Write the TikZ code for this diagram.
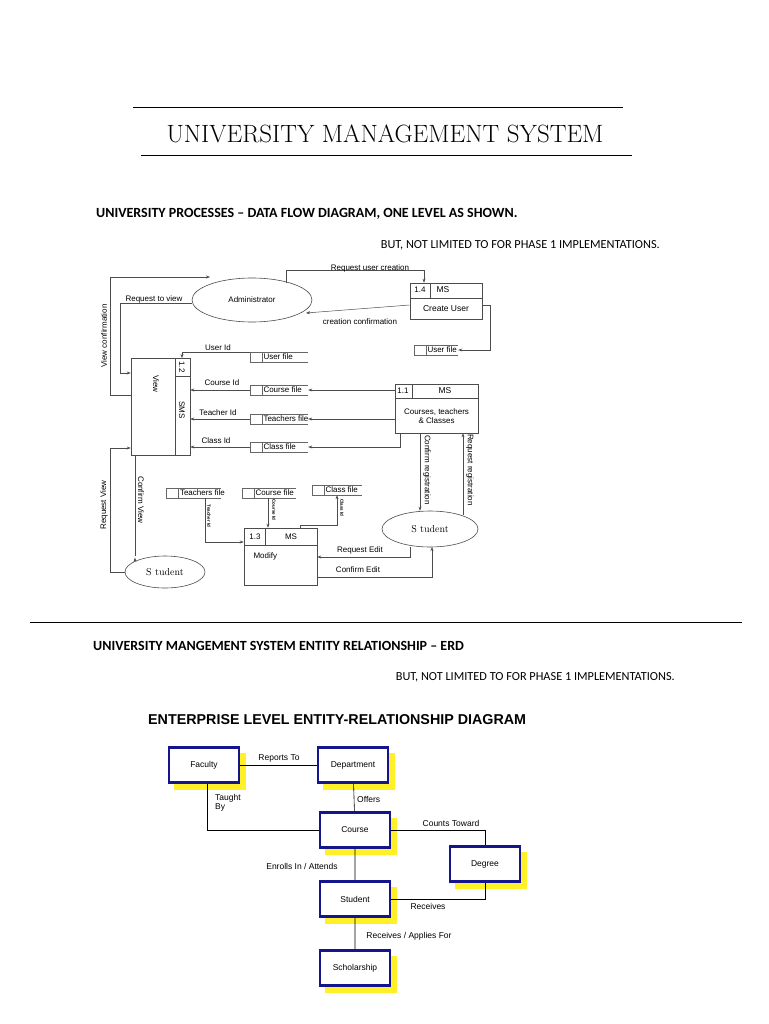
\documentclass[tikz,border=0pt]{standalone}
\usepackage{fontspec}
\setsansfont{Liberation Sans}
\newfontfamily\calib{Carlito}
\usetikzlibrary{shapes.geometric,arrows.meta}
\begin{document}
\begin{tikzpicture}[x=1pt,y=-1pt,
  dfd/.style={font=\sffamily\fontsize{8}{9}\selectfont},
  flow/.style={draw=black!70,line width=0.5pt,-{Stealth[length=4pt,width=3pt]}},
  plain/.style={draw=black!70,line width=0.5pt},
  ent/.style={ellipse,draw=black!70,line width=0.6pt,fill=white},
  proc/.style={draw=black!70,line width=0.6pt,inner sep=0},
  store/.style={minimum height=10pt,inner sep=0pt},
  stxt/.style={dfd,anchor=west,inner sep=0pt},
  erdbox/.style={draw={rgb,255:red,20;green,20;blue,140},line width=2.4pt,fill=white,minimum width=70pt,minimum height=35pt,
     font=\sffamily\fontsize{8.5}{9.5}\selectfont},
  shadowbox/.style={fill={rgb,255:red,255;green,240;blue,40},minimum width=72pt,minimum height=37pt,inner sep=0},
  lbl/.style={font=\sffamily\fontsize{8.5}{9.5}\selectfont,inner sep=1pt},
  hdr/.style={font=\calib\bfseries\fontsize{14}{16}\selectfont,inner sep=0},
  hdr2/.style={font=\calib\fontsize{12.3}{14}\selectfont,inner sep=0}
]
\useasboundingbox (0,0) rectangle (768,1024);
% header
\draw[line width=0.7pt] (133,107) -- (623,107);
\node[font=\fontsize{25}{28}\selectfont] (title) at (385,134) {UNIVERSITY MANAGEMENT SYSTEM};
\draw[line width=0.7pt] (141,155) -- (632,155);
\node[hdr,anchor=west] (h1) at (96,214) {UNIVERSITY PROCESSES – DATA FLOW DIAGRAM, ONE LEVEL AS SHOWN.};
\node[hdr2,anchor=east] (h2) at (660,245) {BUT, NOT LIMITED TO FOR PHASE 1 IMPLEMENTATIONS.};

% ---------- DFD ----------
\node[ent,minimum width=120pt,minimum height=44pt,dfd] (adm) at (252,300) {Administrator};
% Create user 1.4
\node[proc,minimum width=72pt,minimum height=36pt] (cu) at (446,301) {};
\draw[plain] (410,298) -- (482,298) (430,283) -- (430,298);
\node[dfd] (cun) at (420,290) {1.4};
\node[dfd,font=\sffamily\fontsize{8.5}{9}\selectfont,anchor=west] (cums) at (433,290) {MS};
\node[dfd,font=\sffamily\fontsize{8.5}{9}\selectfont] (cut) at (446,309) {Create User};
% View 1.2
\node[proc,minimum width=59pt,minimum height=97pt] (vw) at (160.5,406.5) {};
\draw[plain] (175,358) -- (175,455);
\node[dfd,rotate=-90] (vwn) at (182,367) {1.2};
\draw[plain] (175,376) -- (190,376);
\node[dfd,rotate=-90] (vws) at (182,410) {SMS};
\node[dfd,rotate=-90] (vwt) at (156,384) {View};
% Courses 1.1
\node[proc,minimum width=83pt,minimum height=49pt] (ct) at (436.5,408.5) {};
\draw[plain] (395,398) -- (478,398) (412,384) -- (412,398);
\node[dfd] (ctn) at (403,391) {1.1};
\node[dfd,font=\sffamily\fontsize{8.5}{9}\selectfont] (ctm) at (445,391) {MS};
\node[dfd,align=center] (ctt) at (436.5,416) {Courses, teachers\\\& Classes};
% Modify 1.3
\node[proc,minimum width=73pt,minimum height=57pt] (md) at (280.5,556.5) {};
\draw[plain] (244,545) -- (317,545) (265,528) -- (265,545);
\node[dfd] (mdn) at (255,537) {1.3};
\node[dfd] (mdm) at (291,537) {MS};
\node[dfd,anchor=west] (mdt) at (250,556) {Modify};
% students
\node[ent,minimum width=80pt,minimum height=32pt,font=\fontsize{10}{11}\selectfont] (st1) at (165,572) {S tudent};
\node[ent,minimum width=96pt,minimum height=36pt,font=\fontsize{10}{11}\selectfont] (st2) at (430,529) {S tudent};
% stores
\foreach \n/\x/\y/\w/\t in {uf/279/357/58/User file, cf/279/390/58/Course file, tf/279/419/58/Teachers file,
    clf/279/447/58/Class file, uf2/436/350/44/User file, tf2/193.5/493/54/Teachers file,
    cf2/269/493/54/Course file, clf2/337/490/50/Class file}{
  \node[store,minimum width=\w pt] (\n) at (\x,\y) {};
  \draw[black!60,line width=0.5pt] (\n.north east) -- (\n.north west) -- (\n.south west) -- (\n.south east)
      ([xshift=12pt]\n.north west) -- ([xshift=12pt]\n.south west);
  \node[stxt] (\n t) at ([xshift=13.5pt]\n.west) {\t};
}

% flows
\draw[flow] (adm.north east) ++(-8,-1) |- (424,270) -- (cu.north -| 424,0);
\node[dfd] at (370,268) {Request user creation};
\draw[flow] (cu.west |- 0,305) -- (306,313);
\node[dfd] at (360,322) {creation confirmation};
\draw[flow] (adm.west |- 0,303) -| (120,373) -- (vw.west |- 0,373);
\node[dfd] at (154,299) {Request to view};
\draw[flow] (vw.west |- 0,395) -| (110,277) -- (210,277);
\node[dfd,rotate=90] at (104,336) {View confirmation};
\draw[flow] (cu.east |- 0,305) -| (490,350) -- (uf2.east);
\draw[flow] (uf.west |- 0,352) -- (182,352) -- (182,358);
\node[dfd] at (218,348) {User Id};
\draw[flow] (cf.west) -- (vw.east |- cf.west);
\node[dfd] at (222,383) {Course Id};
\draw[flow] (tf.west) -- (vw.east |- tf.west);
\node[dfd] at (218,413) {Teacher Id};
\draw[flow] (clf.west) -- (vw.east |- clf.west);
\node[dfd] at (216,441) {Class Id};
\draw[flow] (ct.west |- cf.east) -- (cf.east);
\draw[flow] (ct.west |- tf.east) -- (tf.east);
\draw[flow] (ct.south -| 400,0) |- (clf.east);
% registration
\draw[flow] (ct.south -| 420,0) -- (st2.north -| 420,0);
\node[dfd,rotate=-90] at (427,470) {Confirm registration};
\draw[flow] (st2.north -| 463,0) ++(0,4) -- (ct.south -| 463,0);
\node[dfd,rotate=-90] at (470,470) {Request registration};
% view student
\draw[flow] (st1.west) -| (110,448) -- (vw.west |- 0,448);
\node[dfd,rotate=90] at (104,505) {Request View};
\draw[flow] (vw.south -| 135,0) -- (st1.north -| 135,0) ++(0,2);
\node[dfd,rotate=-90] at (141,500) {Confirm View};
% modify flows
\draw[flow] (tf2.south -| 205,0) |- (md.west |- 0,542);
\node[dfd,rotate=-90,font=\sffamily\bfseries\fontsize{4.5}{5}\selectfont] at (209,516) {Teacher Id};
\draw[flow] (cf2.south -| 268,0) -- (md.north -| 268,0);
\node[dfd,rotate=-90,font=\sffamily\bfseries\fontsize{4.5}{5}\selectfont] at (274,510) {Course Id};
\draw[flow] (md.north -| 300,0) |- (337,525) -- (clf2.south -| 337,0);
\node[dfd,rotate=-90,font=\sffamily\bfseries\fontsize{4.5}{5}\selectfont] at (342,508) {Class Id};
\draw[flow] (st2.south -| 410,0) |- (md.east |- 0,557);
\node[dfd] at (360,550) {Request Edit};
\draw[flow] (md.east |- 0,577) -| (432,547);
\node[dfd] at (358,570) {Confirm Edit};

% separator
\draw[line width=0.7pt] (30,622) -- (742,622);
\node[hdr,anchor=west] (h3) at (93,646) {UNIVERSITY MANGEMENT SYSTEM ENTITY RELATIONSHIP – ERD};
\node[hdr2,anchor=east] (h4) at (675,677) {BUT, NOT LIMITED TO FOR PHASE 1 IMPLEMENTATIONS.};

% ---------- ERD ----------
\node[font=\sffamily\bfseries\fontsize{14.3}{16}\selectfont,anchor=west,inner sep=0] (et) at (148,720) {ENTERPRISE LEVEL ENTITY-RELATIONSHIP DIAGRAM};
\foreach \n/\x/\y in {fa/204/765,de/353/765,co/355/830,dg/485/864,su/355/899,sc/355/968}
  \node[shadowbox] (\n s) at (\x+6,\y+6) {};
\draw[line width=0.6pt] (204,765) -- (353,765);
\draw[line width=0.6pt] (353,765) -- (355,830) -- (355,968);
\draw[line width=0.6pt] (207,765) |- (355,830) -| (485,864);
\draw[line width=0.6pt] (355,899) -| (485,864);
\node[erdbox] (fa) at (204,765) {Faculty};
\node[erdbox] (de) at (353,765) {Department};
\node[erdbox] (co) at (355,830) {Course};
\node[erdbox] (dg) at (485,864) {Degree};
\node[erdbox] (su) at (355,899) {Student};
\node[erdbox] (sc) at (355,968) {Scholarship};
\node[lbl] at (279,758) {Reports To};
\node[lbl,anchor=west] at (356,799) {Offers};
\node[lbl,align=left,anchor=north west] at (214,793) {Taught\\By};
\node[lbl] at (451,823) {Counts Toward};
\node[lbl] at (302,866) {Enrolls In / Attends};
\node[lbl] at (428,906) {Receives};
\node[lbl] at (409,936) {Receives / Applies For};
\end{tikzpicture}
\end{document}
